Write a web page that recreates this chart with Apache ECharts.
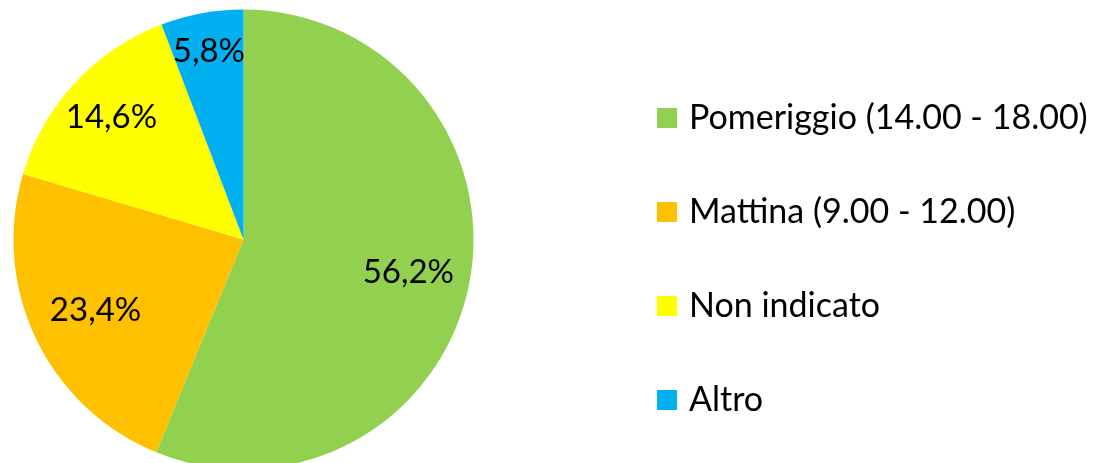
<!DOCTYPE html>
<html>
<head>
<meta charset="utf-8">
<script src="https://cdn.jsdelivr.net/npm/echarts@6/dist/echarts.min.js"></script>
<style>
  html, body { margin: 0; padding: 0; background: #fff; }
  #main { width: 1094px; height: 463px; }
</style>
</head>
<body>
<div id="main"></div>
<script>
// fasce orarie
var categories = ['Pomeriggio (14.00 - 18.00)', 'Mattina (9.00 - 12.00)', 'Non indicato', 'Altro'];
var values = [56.2, 23.4, 14.6, 5.8];
var colors = ['#92D050', '#FFC000', '#FFFF00', '#00B0F0'];
// how far each label sits out from the middle of the label ring (px)
var labelPush = [0, -4, 12, 23];

var cx = 243.5, cy = 239.5, R = 230;
var font = 'Lato, "Open Sans", sans-serif';

var myChart = echarts.init(document.getElementById('main'));

var pieData = categories.map(function (name, i) {
  return { name: name, value: values[i], itemStyle: { color: colors[i] } };
});

myChart.setOption({
  animation: false,
  legend: {
    orient: 'vertical',
    left: 657,
    top: 101,
    padding: 0,
    itemWidth: 20,
    itemHeight: 20,
    itemGap: 60,
    icon: 'rect',
    selectedMode: false,
    textStyle: {
      fontFamily: font,
      fontSize: 34,
      color: '#000',
      padding: [0, 0, 0, 7]
    },
    data: categories
  },
  series: [
    {
      type: 'pie',
      center: [cx, cy],
      radius: [0, R],
      startAngle: 90,
      clockwise: true,
      silent: true,
      label: { show: false },
      labelLine: { show: false },
      data: pieData
    },
    {
      // invisible ring that only carries the labels
      type: 'pie',
      center: [cx, cy],
      radius: [100, R],
      startAngle: 90,
      clockwise: true,
      silent: true,
      itemStyle: { color: 'transparent' },
      label: {
        show: true,
        position: 'inside',
        fontFamily: font,
        fontSize: 33,
        color: '#000',
        formatter: function (p) {
          return p.value.toFixed(1).replace('.', ',') + '%';
        }
      },
      labelLine: { show: false },
      labelLayout: function (p) {
        var r = p.labelRect;
        var lx = r.x + r.width / 2 - cx;
        var ly = r.y + r.height / 2 - cy;
        var d = Math.sqrt(lx * lx + ly * ly) || 1;
        var k = labelPush[p.dataIndex];
        return { dx: lx / d * k, dy: ly / d * k };
      },
      data: categories.map(function (name, i) {
        return { name: name, value: values[i] };
      })
    }
  ]
});
</script>
</body>
</html>
